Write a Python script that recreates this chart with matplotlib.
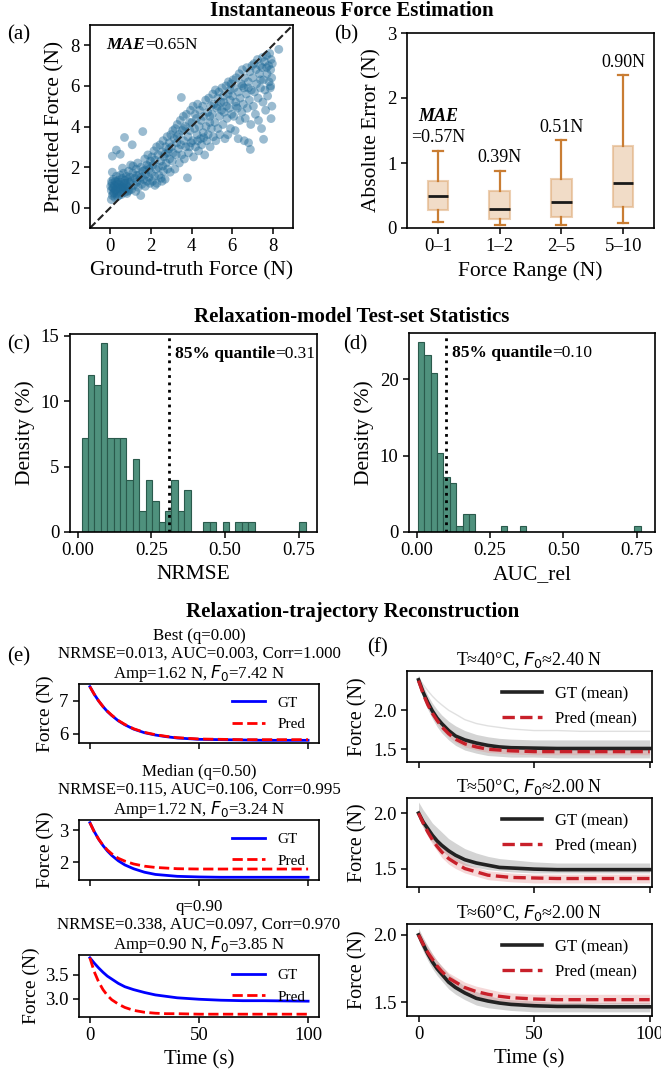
import matplotlib.pyplot as plt
import numpy as np

plt.rcParams["font.family"] = ["Liberation Serif", "DejaVu Serif"]
plt.rcParams["mathtext.fontset"] = "dejavusans"
plt.rcParams["axes.linewidth"] = 1.2
plt.rcParams["xtick.major.width"] = 1.1
plt.rcParams["ytick.major.width"] = 1.1
plt.rcParams["xtick.major.size"] = 4
plt.rcParams["ytick.major.size"] = 4

# ---------------- (a) predicted vs ground-truth force ----------------
scatter_pairs = [
    (0.05, 0.85), (0.08, 1.2), (0.1, 0.6), (0.12, 1.0), (0.15, 1.4), (0.18, 0.75), (0.2, 1.1),
    (0.22, 0.5), (0.25, 1.3), (0.28, 0.9), (0.3, 1.55), (0.32, 0.7), (0.35, 1.15), (0.38, 0.95),
    (0.4, 1.35), (0.42, 0.6), (0.45, 1.0), (0.48, 1.6), (0.5, 0.8), (0.52, 1.25), (0.55, 0.65),
    (0.58, 1.45), (0.6, 1.05), (0.62, 0.85), (0.65, 1.7), (0.68, 1.2), (0.7, 0.75), (0.72, 1.35),
    (0.75, 0.95), (0.78, 1.55), (0.8, 1.1), (0.82, 0.7), (0.85, 1.4), (0.88, 1.0), (0.9, 1.8),
    (0.92, 0.85), (0.95, 1.25), (0.98, 1.5), (0.1, 2.54), (0.3, 2.84), (0.49, 2.63), (0.7, 3.46),
    (0.1, 1.75), (0.05, 0.4), (0.15, 0.95), (0.35, 0.55), (0.6, 1.95), (0.02, 1.05), (0.06, 1.3),
    (0.14, 0.7), (0.24, 0.85), (0.33, 1.25), (0.44, 1.15), (0.56, 0.95), (0.66, 1.0), (0.76, 1.2),
    (0.86, 0.8),
    (1.02, 1.3), (1.05, 0.9), (1.08, 3.1), (1.1, 1.7), (1.12, 2.05), (1.15, 1.1), (1.2, 1.45),
    (1.25, 0.8), (1.28, 1.9), (1.3, 1.25), (1.35, 2.2), (1.38, 1.0), (1.4, 1.6), (1.45, 1.35),
    (1.5, 0.6), (1.52, 2.0), (1.55, 1.15), (1.6, 3.75), (1.6, 1.8), (1.65, 1.4), (1.7, 2.4),
    (1.72, 1.05), (1.75, 1.65), (1.8, 2.1), (1.82, 1.3), (1.85, 2.6), (1.9, 1.5), (1.92, 1.9),
    (1.95, 1.2), (1.98, 2.3), (1.0, 2.1), (1.3, 1.6), (1.5, 1.5), (1.7, 1.85), (1.9, 2.05),
    (2.02, 1.7), (2.05, 2.5), (2.08, 1.3), (2.1, 2.1), (2.15, 2.8), (2.18, 1.55), (2.2, 2.35),
    (2.25, 1.9), (2.28, 3.0), (2.3, 1.2), (2.35, 2.6), (2.38, 2.0), (2.4, 1.6), (2.45, 3.1),
    (2.48, 2.3), (2.5, 1.45), (2.55, 2.75), (2.58, 2.05), (2.6, 3.3), (2.62, 1.8), (2.65, 2.5),
    (2.7, 1.4), (2.72, 3.0), (2.75, 2.2), (2.8, 3.5), (2.82, 1.9), (2.85, 2.7), (2.9, 3.2),
    (2.92, 2.4), (2.95, 1.75), (2.98, 3.6), (2.2, 1.1), (2.55, 1.3), (2.7, 2.65), (2.9, 2.9),
    (3.02, 3.0), (3.05, 2.3), (3.08, 3.8), (3.1, 2.7), (3.15, 3.4), (3.18, 1.9), (3.2, 3.9),
    (3.25, 2.6), (3.28, 3.2), (3.3, 4.1), (3.35, 2.9), (3.38, 3.6), (3.4, 2.2), (3.45, 4.3),
    (3.48, 3.1), (3.5, 5.43), (3.52, 2.6), (3.55, 3.8), (3.6, 4.5), (3.62, 3.3), (3.65, 2.4),
    (3.7, 4.0), (3.72, 3.0), (3.75, 4.6), (3.8, 1.47), (3.82, 3.5), (3.85, 2.7), (3.9, 4.2),
    (3.92, 3.8), (3.95, 4.8), (3.98, 3.2), (3.3, 3.5), (3.6, 3.9), (3.9, 3.0),
    (4.02, 4.2), (4.05, 3.3), (4.08, 5.0), (4.1, 2.5), (4.15, 3.9), (4.18, 4.6), (4.2, 3.0),
    (4.25, 4.4), (4.28, 3.6), (4.3, 5.1), (4.35, 2.8), (4.38, 4.0), (4.4, 4.8), (4.45, 3.4),
    (4.48, 4.3), (4.5, 3.1), (4.55, 5.0), (4.58, 3.7), (4.6, 4.5), (4.65, 2.6), (4.7, 5.3),
    (4.72, 4.0), (4.75, 3.3), (4.8, 4.7), (4.82, 3.6), (4.85, 5.4), (4.9, 4.2), (4.92, 3.0),
    (4.95, 5.0), (4.98, 3.9), (4.3, 3.3), (4.6, 3.45), (4.9, 4.5),
    (5.02, 4.6), (5.05, 5.6), (5.08, 3.5), (5.1, 5.1), (5.15, 4.2), (5.18, 5.8), (5.2, 3.3),
    (5.25, 4.9), (5.28, 5.4), (5.3, 3.9), (5.35, 5.7), (5.38, 4.5), (5.4, 3.6), (5.45, 5.2),
    (5.48, 4.8), (5.5, 5.9), (5.55, 4.1), (5.58, 5.5), (5.6, 4.7), (5.65, 3.4), (5.7, 6.0),
    (5.72, 5.0), (5.75, 4.4), (5.79, 3.6), (5.8, 5.6), (5.82, 6.2), (5.85, 4.9), (5.9, 5.3),
    (5.92, 3.9), (5.95, 6.1), (5.98, 4.6), (5.3, 5.0), (5.6, 5.2), (5.9, 5.8),
    (6.02, 5.5), (6.05, 6.3), (6.08, 4.5), (6.1, 5.9), (6.15, 3.8), (6.18, 5.2), (6.2, 6.4),
    (6.25, 4.9), (6.3, 3.4), (6.3, 5.7), (6.35, 6.6), (6.38, 4.3), (6.4, 5.4), (6.45, 6.1),
    (6.48, 4.7), (6.5, 6.8), (6.55, 5.1), (6.58, 5.9), (6.6, 3.3), (6.62, 6.4), (6.65, 4.4),
    (6.7, 5.6), (6.72, 6.9), (6.75, 4.9), (6.8, 6.2), (6.81, 3.2), (6.85, 5.3), (6.88, 6.7),
    (6.9, 2.87), (6.92, 4.1), (6.95, 5.8), (6.98, 7.0), (6.2, 5.0), (6.5, 6.0), (6.8, 5.9),
    (7.02, 6.4), (7.05, 5.0), (7.08, 7.1), (7.1, 5.7), (7.15, 4.6), (7.18, 6.8), (7.2, 6.1),
    (7.25, 7.3), (7.28, 5.4), (7.3, 4.3), (7.35, 6.6), (7.38, 7.0), (7.4, 5.9), (7.45, 3.9),
    (7.48, 6.9), (7.5, 7.4), (7.52, 5.2), (7.55, 3.37), (7.55, 6.3), (7.6, 7.2), (7.62, 5.8),
    (7.65, 4.8), (7.7, 7.5), (7.72, 6.6), (7.75, 5.5), (7.8, 7.0), (7.82, 6.2), (7.85, 7.6),
    (7.88, 5.9), (7.9, 6.8), (7.92, 4.39), (7.92, 7.3), (7.95, 6.4), (7.96, 5.0), (7.98, 7.1),
    (8.3, 7.8), (7.9, 6.0), (7.7, 6.9), (7.4, 6.3),
]
gt_force = [p[0] for p in scatter_pairs]
pred_force = [p[1] for p in scatter_pairs]
overall_mae = "0.65N"

# ---------------- (b) absolute error per force range ----------------
range_labels = ["0\u20131", "1\u20132", "2\u20135", "5\u201310"]
box_whislo = [0.10, 0.04, 0.04, 0.07]
box_q1 = [0.28, 0.14, 0.17, 0.33]
box_med = [0.49, 0.30, 0.40, 0.70]
box_q3 = [0.72, 0.57, 0.76, 1.26]
box_whishi = [1.19, 0.88, 1.35, 2.35]
range_mae = ["0.57N", "0.39N", "0.51N", "0.90N"]

# ---------------- (c), (d) test-set histograms (percent per bin) ----------------
nrmse_edges = np.linspace(0.0136, 0.774, 36)
nrmse_density = [7.2, 12.0, 11.2, 14.4, 7.2, 7.2, 7.2, 4.0, 5.6, 1.6, 4.0, 2.4, 0.8, 1.6,
                 4.0, 1.6, 3.2, 0, 0, 0.8, 0.8, 0, 0.8, 0, 0.8, 0.8, 0.8, 0, 0, 0, 0, 0, 0, 0, 0.8]
nrmse_q85 = 0.31
auc_edges = np.linspace(0.0045, 0.7635, 36)
auc_density = [24.8, 23.2, 20.8, 10.4, 7.2, 6.4, 0.8, 2.4, 2.4, 0, 0, 0, 0, 0.8, 0, 0, 0.8,
               0, 0, 0, 0, 0, 0, 0, 0, 0, 0, 0, 0, 0, 0, 0, 0, 0, 0.8]
auc_q85 = 0.10

# ---------------- (e) example trajectories ----------------
time_s = [0, 2, 4, 6, 8, 10, 13, 16, 20, 25, 30, 35, 40, 50, 60, 70, 80, 100]
e_titles = [
    "Best (q=0.00)\nNRMSE=0.013, AUC=0.003, Corr=1.000\nAmp=1.62 N, $F_0$=7.42 N",
    "Median (q=0.50)\nNRMSE=0.115, AUC=0.106, Corr=0.995\nAmp=1.72 N, $F_0$=3.24 N",
    "q=0.90\nNRMSE=0.338, AUC=0.097, Corr=0.970\nAmp=0.90 N, $F_0$=3.85 N",
]
best_gt = [7.42, 7.19, 6.99, 6.82, 6.67, 6.55, 6.39, 6.27, 6.14, 6.03, 5.96, 5.91, 5.87, 5.83,
           5.82, 5.81, 5.80, 5.80]
best_pred = [7.42, 7.19, 6.99, 6.82, 6.68, 6.56, 6.40, 6.28, 6.15, 6.04, 5.97, 5.92, 5.88, 5.84,
             5.83, 5.82, 5.82, 5.82]
median_gt = [3.24, 2.96, 2.72, 2.52, 2.35, 2.21, 2.04, 1.91, 1.79, 1.68, 1.61, 1.58, 1.55, 1.53,
             1.52, 1.52, 1.52, 1.52]
median_pred = [3.24, 2.95, 2.72, 2.53, 2.38, 2.26, 2.12, 2.03, 1.94, 1.87, 1.83, 1.81, 1.79,
               1.78, 1.78, 1.78, 1.78, 1.78]
q90_gt = [3.85, 3.74, 3.64, 3.55, 3.47, 3.41, 3.32, 3.25, 3.19, 3.13, 3.08, 3.05, 3.02, 2.99,
          2.97, 2.96, 2.96, 2.95]
q90_pred = [3.85, 3.56, 3.35, 3.19, 3.07, 2.98, 2.89, 2.82, 2.76, 2.72, 2.70, 2.69, 2.69, 2.68,
            2.68, 2.68, 2.68, 2.68]
e_yticks = [[6, 7], [2, 3], [3.0, 3.5]]

# ---------------- (f) grouped means by temperature ----------------
f_titles = ["T\u224840\u00b0C, $F_0$\u22482.40 N", "T\u224850\u00b0C, $F_0$\u22482.00 N",
            "T\u224860\u00b0C, $F_0$\u22482.00 N"]
t40_gt = [2.39, 2.23, 2.10, 1.99, 1.90, 1.83, 1.74, 1.67, 1.62, 1.58, 1.55, 1.53, 1.52, 1.515,
          1.51, 1.51, 1.51, 1.51]
t40_pred = [2.38, 2.21, 2.07, 1.96, 1.87, 1.79, 1.70, 1.63, 1.57, 1.53, 1.50, 1.49, 1.48, 1.47,
            1.47, 1.47, 1.47, 1.47]
t40_gt_lo = [2.33, 2.15, 2.01, 1.89, 1.79, 1.71, 1.62, 1.55, 1.49, 1.45, 1.42, 1.41, 1.40, 1.40,
             1.39, 1.39, 1.39, 1.39]
t40_gt_hi = [2.45, 2.31, 2.19, 2.09, 2.01, 1.94, 1.86, 1.80, 1.74, 1.69, 1.66, 1.64, 1.63, 1.62,
             1.62, 1.62, 1.62, 1.62]
t40_pred_lo = [2.35, 2.17, 2.03, 1.92, 1.83, 1.75, 1.66, 1.59, 1.53, 1.49, 1.46, 1.45, 1.44,
               1.43, 1.43, 1.43, 1.43, 1.43]
t40_pred_hi = [2.41, 2.25, 2.11, 2.00, 1.91, 1.83, 1.74, 1.67, 1.61, 1.57, 1.54, 1.53, 1.52,
               1.51, 1.51, 1.51, 1.51, 1.51]
t40_outlier = [2.42, 2.33, 2.25, 2.18, 2.12, 2.07, 2.00, 1.95, 1.88, 1.83, 1.80, 1.78, 1.76,
               1.74, 1.74, 1.73, 1.73, 1.73]
t50_gt = [2.00, 1.92, 1.86, 1.80, 1.75, 1.71, 1.66, 1.62, 1.58, 1.55, 1.53, 1.51, 1.505, 1.495,
          1.49, 1.49, 1.49, 1.49]
t50_pred = [2.00, 1.91, 1.83, 1.76, 1.70, 1.65, 1.59, 1.55, 1.50, 1.47, 1.44, 1.43, 1.42, 1.415,
            1.41, 1.41, 1.41, 1.41]
t50_gt_lo = [1.95, 1.87, 1.80, 1.74, 1.70, 1.66, 1.61, 1.57, 1.53, 1.51, 1.49, 1.48, 1.47, 1.46,
             1.46, 1.46, 1.46, 1.46]
t50_gt_hi = [2.10, 2.03, 1.97, 1.91, 1.87, 1.83, 1.77, 1.73, 1.68, 1.64, 1.61, 1.59, 1.58, 1.56,
             1.55, 1.55, 1.55, 1.55]
t50_pred_lo = [1.96, 1.87, 1.79, 1.72, 1.66, 1.60, 1.54, 1.50, 1.46, 1.43, 1.40, 1.39, 1.38,
               1.37, 1.37, 1.37, 1.37, 1.37]
t50_pred_hi = [2.04, 1.95, 1.87, 1.80, 1.74, 1.70, 1.64, 1.60, 1.55, 1.51, 1.48, 1.47, 1.46,
               1.45, 1.45, 1.45, 1.45, 1.45]
t60_gt = [2.00, 1.93, 1.86, 1.80, 1.75, 1.71, 1.65, 1.61, 1.57, 1.53, 1.51, 1.495, 1.485, 1.475,
          1.47, 1.47, 1.467, 1.467]
t60_pred = [2.00, 1.93, 1.87, 1.82, 1.77, 1.73, 1.68, 1.65, 1.61, 1.58, 1.56, 1.545, 1.535,
            1.525, 1.52, 1.52, 1.52, 1.52]
t60_gt_lo = [1.96, 1.88, 1.81, 1.75, 1.70, 1.66, 1.60, 1.56, 1.52, 1.48, 1.46, 1.45, 1.44, 1.43,
             1.43, 1.43, 1.43, 1.43]
t60_gt_hi = [2.05, 1.98, 1.92, 1.86, 1.81, 1.77, 1.71, 1.67, 1.62, 1.58, 1.55, 1.53, 1.52, 1.51,
             1.50, 1.50, 1.50, 1.50]
t60_pred_lo = [1.97, 1.89, 1.83, 1.78, 1.73, 1.69, 1.64, 1.61, 1.57, 1.54, 1.52, 1.51, 1.50,
               1.49, 1.49, 1.49, 1.49, 1.49]
t60_pred_hi = [2.04, 1.97, 1.91, 1.86, 1.81, 1.77, 1.72, 1.69, 1.65, 1.62, 1.60, 1.58, 1.57,
               1.56, 1.56, 1.56, 1.56, 1.56]

W, H = 661, 1080
fig = plt.figure(figsize=(W / 100, H / 100), dpi=100)


def place(left, top, right, bottom):
    return fig.add_axes([left / W, 1 - bottom / H, (right - left) / W, (bottom - top) / H])


def fig_text(x, y, s, **kw):
    fig.text(x / W, 1 - y / H, s, **kw)


TICK = 13.5
LABEL = 15.5
for x, y, s in [(352, 11, "Instantaneous Force Estimation"),
                (352, 317, "Relaxation-model Test-set Statistics"),
                (353, 612, "Relaxation-trajectory Reconstruction")]:
    fig_text(x, y, s, ha="center", va="center", fontsize=15, weight="bold")
for x, y, s in [(19, 35, "(a)"), (346, 35, "(b)"), (19, 345, "(c)"), (355, 345, "(d)"),
                (19, 657, "(e)"), (377, 648, "(f)")]:
    fig_text(x, y, s, ha="center", va="center", fontsize=15)

# (a)
ax = place(90, 25, 293, 228)
ax.scatter(gt_force, pred_force, s=40, color="#1f6a98", alpha=0.45, edgecolors="none")
ax.axline((0, 0), slope=1, color="#222222", ls="--", lw=1.5)
ax.set_xlim(-1, 9)
ax.set_ylim(-1, 9)
ax.set_xticks([0, 2, 4, 6, 8])
ax.set_yticks([0, 2, 4, 6, 8])
ax.tick_params(labelsize=TICK)
ax.set_xlabel("Ground-truth Force (N)", fontsize=LABEL)
ax.set_ylabel("Predicted Force (N)", fontsize=LABEL)
t1 = ax.text(0.08, 0.9, "MAE", transform=ax.transAxes, fontsize=12.5, weight="bold",
             style="italic", va="center")
ax.annotate("=" + overall_mae, xy=(1, 0), xycoords=t1, va="bottom", fontsize=12.5)

# (b)
ax = place(407, 33, 654, 228)
stats = [dict(label=l, whislo=a, q1=b, med=c, q3=d, whishi=e, fliers=[])
         for l, a, b, c, d, e in zip(range_labels, box_whislo, box_q1, box_med, box_q3, box_whishi)]
tan = "#c97d33"
ax.bxp(stats, widths=0.33, patch_artist=True, showfliers=False,
       boxprops=dict(facecolor=(0.87, 0.66, 0.45, 0.4), edgecolor=(0.87, 0.66, 0.45, 0.55), lw=1.5),
       whiskerprops=dict(color=tan, lw=1.6), capprops=dict(color=tan, lw=1.6),
       medianprops=dict(color="#1a1a1a", lw=2))
for i, (hi, lab) in enumerate(zip(box_whishi, range_mae)):
    if i == 0:
        ax.text(i + 1, hi + 0.2, "=" + lab, ha="center", va="center", fontsize=13)
        ax.text(i + 1, hi + 0.53, "MAE", ha="center", va="center", fontsize=13,
                weight="bold", style="italic")
    else:
        ax.text(i + 1, hi + 0.2, lab, ha="center", va="center", fontsize=13)
ax.set_xlim(0.5, 4.5)
ax.set_ylim(0, 3)
ax.set_yticks([0, 1, 2, 3])
ax.tick_params(labelsize=TICK)
ax.set_xlabel("Force Range (N)", fontsize=LABEL)
ax.set_ylabel("Absolute Error (N)", fontsize=LABEL)

# (c), (d)
for box, edges, dens, q85, xlabel in [((70, 334, 317, 532), nrmse_edges, nrmse_density, nrmse_q85, "NRMSE"),
                                       ((409, 333, 655, 532), auc_edges, auc_density, auc_q85, "AUC_rel")]:
    ax = place(*box)
    ax.bar(edges[:-1], dens, width=np.diff(edges), align="edge", color="#4f917d",
           edgecolor="#2a5a4c", lw=0.8)
    ax.axvline(q85, color="black", ls=":", lw=2)
    ax.set_ylim(0, max(dens) * 1.05)
    ax.set_xlim(-0.026, 0.812)
    ax.set_xticks([0, 0.25, 0.5, 0.75])
    ax.tick_params(labelsize=TICK)
    ax.set_xlabel(xlabel, fontsize=LABEL)
    ax.set_ylabel("Density (%)", fontsize=LABEL)
    t1 = ax.text(q85 + 0.02, 0.9, "85% quantile", transform=ax.get_xaxis_transform(),
                 fontsize=12.5, weight="bold", va="center")
    ax.annotate("=%.2f" % q85, xy=(1, 0), xycoords=t1, va="bottom", fontsize=12.5)

# (e)
e_boxes = [(79, 684, 319, 743), (79, 820, 319, 880), (79, 955, 319, 1017)]
e_series = [(best_gt, best_pred), (median_gt, median_pred), (q90_gt, q90_pred)]
for i, (box, (gt, pr), title, yt) in enumerate(zip(e_boxes, e_series, e_titles, e_yticks)):
    ax = place(*box)
    ax.plot(time_s, gt, color="blue", lw=2, label="GT")
    ax.plot(time_s, pr, color="red", lw=2, ls="--", label="Pred")
    ax.set_title(title, fontsize=12.2, pad=4, linespacing=1.12)
    ax.set_xticks([0, 50, 100])
    ax.set_yticks(yt)
    ax.tick_params(labelsize=TICK, labelbottom=(i == 2))
    ax.set_ylabel("Force (N)", fontsize=14)
    ax.legend(loc="center right", frameon=False, fontsize=11, handlelength=2.2)
    if i == 2:
        ax.set_xlabel("Time (s)", fontsize=15)

# (f)
f_boxes = [(407, 671, 652, 762), (407, 798, 652, 887), (407, 924, 652, 1016)]
f_series = [(t40_gt, t40_pred, t40_gt_lo, t40_gt_hi, t40_pred_lo, t40_pred_hi),
            (t50_gt, t50_pred, t50_gt_lo, t50_gt_hi, t50_pred_lo, t50_pred_hi),
            (t60_gt, t60_pred, t60_gt_lo, t60_gt_hi, t60_pred_lo, t60_pred_hi)]
for i, (box, ser, title) in enumerate(zip(f_boxes, f_series, f_titles)):
    gt, pr, glo, ghi, plo, phi = ser
    ax = place(*box)
    ax.fill_between(time_s, glo, ghi, color="#a0a0a0", alpha=0.45, lw=0)
    ax.fill_between(time_s, plo, phi, color="#e08080", alpha=0.3, lw=0)
    if i == 0:
        ax.plot(time_s, t40_outlier, color="#d4d4d4", lw=1, alpha=0.7)
    ax.plot(time_s, gt, color="#222222", lw=2.6, label="GT (mean)")
    ax.plot(time_s, pr, color="#c8202a", lw=2.4, ls="--", label="Pred (mean)")
    ax.set_title(title, fontsize=13, pad=4)
    ax.set_xlim(-5, 101)
    ax.set_xticks([0, 50, 100])
    ax.set_yticks([1.5, 2.0])
    ax.tick_params(labelsize=TICK, labelbottom=(i == 2))
    ax.set_ylabel("Force (N)", fontsize=14.5)
    ax.legend(loc="upper right", frameon=False, fontsize=12, handlelength=2.4)
    if i == 2:
        ax.set_xlabel("Time (s)", fontsize=15)

fig.savefig("out.png", dpi=100)
